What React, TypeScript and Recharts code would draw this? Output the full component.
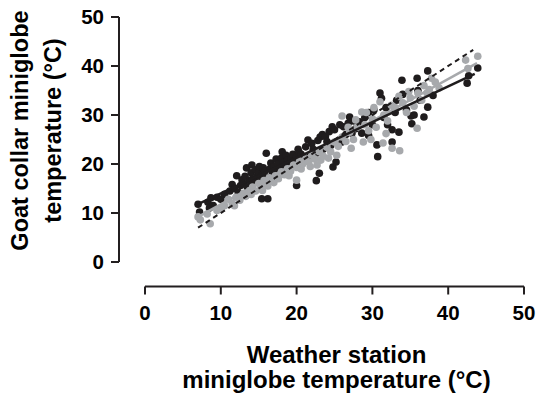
import { ScatterChart, Scatter, XAxis, YAxis, Label } from 'recharts';

// station (x) vs collar (y) miniglobe temperatures
const blackPoints = [
  { x: 7.0, y: 11.8 }, { x: 7.2, y: 10.2 }, { x: 8.3, y: 12.2 }, { x: 8.7, y: 13.1 }, { x: 8.5, y: 11.0 },
  { x: 9.0, y: 11.5 }, { x: 9.5, y: 13.2 }, { x: 10.0, y: 12.8 }, { x: 10.5, y: 13.8 }, { x: 11.2, y: 14.5 },
  { x: 11.5, y: 15.8 }, { x: 11.8, y: 15.0 }, { x: 12.1, y: 17.6 }, { x: 12.3, y: 14.2 }, { x: 12.6, y: 15.6 },
  { x: 12.8, y: 16.8 }, { x: 13.0, y: 16.0 }, { x: 13.2, y: 17.5 }, { x: 13.4, y: 19.2 }, { x: 13.5, y: 15.3 },
  { x: 13.8, y: 16.6 }, { x: 14.0, y: 18.2 }, { x: 14.1, y: 19.8 }, { x: 14.2, y: 17.0 }, { x: 14.5, y: 16.2 },
  { x: 14.6, y: 18.8 }, { x: 14.8, y: 17.5 }, { x: 15.0, y: 18.2 }, { x: 15.1, y: 19.5 }, { x: 15.2, y: 16.8 },
  { x: 15.4, y: 12.9 }, { x: 15.5, y: 17.9 }, { x: 15.6, y: 19.2 }, { x: 15.8, y: 18.5 }, { x: 16.0, y: 22.2 },
  { x: 16.2, y: 12.9 }, { x: 16.3, y: 17.2 }, { x: 16.5, y: 19.0 }, { x: 16.6, y: 20.2 }, { x: 16.8, y: 18.0 },
  { x: 17.0, y: 19.5 }, { x: 17.2, y: 18.6 }, { x: 17.3, y: 21.0 }, { x: 17.5, y: 20.0 }, { x: 17.8, y: 19.0 },
  { x: 18.0, y: 21.2 }, { x: 18.1, y: 22.5 }, { x: 18.2, y: 20.3 }, { x: 18.5, y: 19.4 }, { x: 18.6, y: 21.8 },
  { x: 18.8, y: 20.8 }, { x: 19.0, y: 20.0 }, { x: 19.3, y: 21.2 }, { x: 19.5, y: 22.0 }, { x: 19.6, y: 20.5 },
  { x: 20.0, y: 15.6 }, { x: 20.0, y: 21.5 }, { x: 20.2, y: 23.0 }, { x: 20.4, y: 22.2 }, { x: 20.6, y: 22.0 },
  { x: 21.0, y: 21.3 }, { x: 21.2, y: 23.5 }, { x: 21.5, y: 24.9 }, { x: 21.8, y: 21.6 }, { x: 22.0, y: 24.2 },
  { x: 22.2, y: 23.0 }, { x: 22.6, y: 16.6 }, { x: 22.6, y: 22.2 }, { x: 22.8, y: 24.8 }, { x: 23.0, y: 18.1 },
  { x: 23.1, y: 25.5 }, { x: 23.4, y: 26.0 }, { x: 23.5, y: 23.0 }, { x: 23.8, y: 25.6 }, { x: 24.0, y: 24.6 },
  { x: 24.3, y: 26.6 }, { x: 24.7, y: 27.6 }, { x: 24.5, y: 23.8 }, { x: 24.8, y: 19.4 }, { x: 25.0, y: 27.0 },
  { x: 25.2, y: 20.4 }, { x: 25.7, y: 28.0 }, { x: 26.0, y: 24.5 }, { x: 26.2, y: 27.6 }, { x: 26.5, y: 26.0 },
  { x: 26.8, y: 28.3 }, { x: 27.0, y: 29.6 }, { x: 27.3, y: 26.3 }, { x: 27.5, y: 28.8 }, { x: 27.8, y: 27.2 },
  { x: 28.3, y: 28.6 }, { x: 28.6, y: 26.3 }, { x: 29.0, y: 29.5 }, { x: 29.5, y: 25.8 }, { x: 29.5, y: 30.5 },
  { x: 30.0, y: 28.0 }, { x: 30.2, y: 31.0 }, { x: 30.6, y: 23.9 }, { x: 30.7, y: 21.5 }, { x: 31.0, y: 34.5 },
  { x: 31.2, y: 33.4 }, { x: 31.5, y: 29.5 }, { x: 31.8, y: 31.5 }, { x: 32.0, y: 28.0 }, { x: 32.6, y: 24.5 },
  { x: 32.6, y: 27.0 }, { x: 33.0, y: 30.5 }, { x: 33.2, y: 33.0 }, { x: 33.5, y: 26.5 }, { x: 33.9, y: 37.1 },
  { x: 34.0, y: 34.2 }, { x: 34.5, y: 31.0 }, { x: 35.1, y: 29.8 }, { x: 35.5, y: 30.0 }, { x: 35.2, y: 28.2 },
  { x: 35.9, y: 37.5 }, { x: 36.0, y: 35.0 }, { x: 36.3, y: 33.0 }, { x: 36.8, y: 29.6 }, { x: 37.3, y: 31.6 },
  { x: 37.3, y: 39.0 }, { x: 38.0, y: 34.0 }, { x: 42.5, y: 36.5 }, { x: 42.7, y: 38.0 }, { x: 43.9, y: 39.6 },
];

const greyPoints = [
  { x: 7.0, y: 9.2 }, { x: 7.3, y: 8.6 }, { x: 8.6, y: 7.8 }, { x: 8.2, y: 9.8 }, { x: 9.5, y: 10.5 },
  { x: 10.0, y: 10.8 }, { x: 10.5, y: 11.5 }, { x: 11.0, y: 12.8 }, { x: 11.5, y: 12.0 }, { x: 11.8, y: 11.5 },
  { x: 12.0, y: 13.2 }, { x: 12.5, y: 12.6 }, { x: 12.8, y: 13.5 }, { x: 13.0, y: 14.0 }, { x: 13.3, y: 13.4 },
  { x: 13.8, y: 14.6 }, { x: 14.0, y: 13.8 }, { x: 14.2, y: 15.3 }, { x: 14.6, y: 14.5 }, { x: 15.0, y: 16.0 },
  { x: 15.3, y: 15.2 }, { x: 15.5, y: 14.6 }, { x: 15.7, y: 16.6 }, { x: 16.0, y: 16.0 }, { x: 16.2, y: 15.5 },
  { x: 16.4, y: 17.2 }, { x: 16.8, y: 16.5 }, { x: 17.0, y: 16.2 }, { x: 17.2, y: 17.6 }, { x: 17.6, y: 17.0 },
  { x: 17.8, y: 17.8 }, { x: 18.0, y: 18.4 }, { x: 18.4, y: 17.8 }, { x: 18.8, y: 19.0 }, { x: 19.0, y: 17.6 },
  { x: 19.2, y: 18.5 }, { x: 19.6, y: 19.8 }, { x: 20.0, y: 16.7 }, { x: 20.0, y: 19.3 }, { x: 20.4, y: 20.6 },
  { x: 20.6, y: 19.0 }, { x: 20.8, y: 20.0 }, { x: 21.2, y: 21.0 }, { x: 21.6, y: 20.4 }, { x: 21.8, y: 19.5 },
  { x: 22.0, y: 21.8 }, { x: 22.4, y: 21.0 }, { x: 22.7, y: 19.8 }, { x: 23.0, y: 22.5 }, { x: 23.2, y: 20.8 },
  { x: 23.5, y: 21.6 }, { x: 24.0, y: 23.4 }, { x: 24.2, y: 21.2 }, { x: 24.5, y: 22.5 }, { x: 25.0, y: 24.5 },
  { x: 25.3, y: 21.8 }, { x: 25.5, y: 23.6 }, { x: 26.0, y: 29.8 }, { x: 26.0, y: 25.5 }, { x: 26.5, y: 24.6 },
  { x: 26.8, y: 27.5 }, { x: 27.0, y: 26.5 }, { x: 27.2, y: 23.2 }, { x: 27.5, y: 25.0 }, { x: 27.8, y: 29.0 },
  { x: 28.0, y: 27.5 }, { x: 28.6, y: 30.6 }, { x: 28.8, y: 24.5 }, { x: 29.0, y: 28.0 }, { x: 29.2, y: 30.5 },
  { x: 29.5, y: 26.8 }, { x: 29.8, y: 25.0 }, { x: 30.0, y: 29.2 }, { x: 30.2, y: 31.5 }, { x: 30.5, y: 27.5 },
  { x: 31.0, y: 32.7 }, { x: 31.4, y: 24.3 }, { x: 31.5, y: 30.0 }, { x: 31.8, y: 26.2 }, { x: 32.0, y: 28.8 },
  { x: 32.5, y: 32.0 }, { x: 32.6, y: 23.2 }, { x: 33.0, y: 31.5 }, { x: 33.5, y: 33.8 }, { x: 33.6, y: 22.7 },
  { x: 34.0, y: 32.5 }, { x: 34.5, y: 30.5 }, { x: 34.8, y: 34.8 }, { x: 35.0, y: 33.5 }, { x: 35.5, y: 31.8 },
  { x: 35.9, y: 27.3 }, { x: 36.0, y: 34.5 }, { x: 36.5, y: 33.0 }, { x: 36.8, y: 36.0 }, { x: 37.2, y: 34.5 },
  { x: 37.5, y: 35.2 }, { x: 37.8, y: 37.5 }, { x: 38.3, y: 36.7 }, { x: 38.8, y: 35.5 }, { x: 42.3, y: 41.2 },
  { x: 42.6, y: 39.5 }, { x: 43.9, y: 42.0 },
];

// fitted lines and the 1:1 line
const blackFit = [{ x: 7.0, y: 11.8 }, { x: 43.5, y: 38.4 }];
const greyFit = [{ x: 7.0, y: 9.2 }, { x: 43.8, y: 40.6 }];
const identity = [{ x: 7.0, y: 7.0 }, { x: 43.3, y: 43.3 }];

const xTicks = [0, 10, 20, 30, 40, 50];
const yTicks = [0, 10, 20, 30, 40, 50];

const BLACK = '#1f1c1d';
const GREY = '#a7a9ac';
const AXIS = '#231f20';
const FONT = '"Liberation Sans", Arial, Helvetica, sans-serif';

const blackDot = (p: any) => <circle cx={p.cx} cy={p.cy} r={3.8} fill={BLACK} />;
const greyDot = (p: any) => <circle cx={p.cx} cy={p.cy} r={3.8} fill={GREY} />;
const noDot = () => <g />;

const tickStyle = { fill: '#000', fontSize: 20.5, fontWeight: 700, fontFamily: FONT };

const XTitle = (props: any) => {
  const vb = props.viewBox;
  const cx = vb.x + vb.width / 2 + 2;
  return (
    <text textAnchor="middle" fontFamily={FONT} fontWeight={700} fontSize={24} fill="#000">
      <tspan x={cx} y={vb.y + 101}>Weather station</tspan>
      <tspan x={cx} y={vb.y + 126}>miniglobe temperature (°C)</tspan>
    </text>
  );
};

const YTitle = (props: any) => {
  const vb = props.viewBox;
  const cy = vb.y + vb.height / 2 - 9;
  return (
    <text
      transform={`translate(0, ${cy}) rotate(-90)`}
      textAnchor="middle"
      fontFamily={FONT}
      fontWeight={700}
      fontSize={23.5}
      fill="#000"
    >
      <tspan x={0} y={28}>Goat collar miniglobe</tspan>
      <tspan x={0} y={61}>temperature (°C)</tspan>
    </text>
  );
};

export default function App() {
  return (
    <div style={{ position: 'absolute', left: 0, top: 0 }}>
      <ScatterChart width={537} height={399} margin={{ top: 17, right: 13, bottom: 0, left: 0 }}>
        <XAxis
          type="number"
          dataKey="x"
          domain={[0, 50]}
          ticks={xTicks}
          interval={0}
          height={137}
          tickSize={8}
          tickMargin={35}
          axisLine={{ stroke: AXIS, strokeWidth: 2, transform: 'translate(0 24.5)' }}
          tickLine={{ stroke: AXIS, strokeWidth: 2, transform: 'translate(0 24.5)' }}
          tick={tickStyle}
        >
          <Label content={XTitle} />
        </XAxis>
        <YAxis
          type="number"
          dataKey="y"
          domain={[0, 50]}
          ticks={yTicks}
          interval={0}
          width={145}
          tickSize={8}
          tickMargin={33}
          axisLine={{ stroke: AXIS, strokeWidth: 2, transform: 'translate(-26 0)' }}
          tickLine={{ stroke: AXIS, strokeWidth: 2, transform: 'translate(-26 0)' }}
          tick={tickStyle}
        >
          <Label content={YTitle} />
        </YAxis>
        <Scatter data={blackPoints} shape={blackDot} isAnimationActive={false} />
        <Scatter data={greyPoints} shape={greyDot} isAnimationActive={false} />
        <Scatter
          data={greyFit}
          shape={noDot}
          line={{ stroke: GREY, strokeWidth: 2.5 }}
          isAnimationActive={false}
        />
        <Scatter
          data={blackFit}
          shape={noDot}
          line={{ stroke: BLACK, strokeWidth: 2.5 }}
          isAnimationActive={false}
        />
        <Scatter
          data={identity}
          shape={noDot}
          line={{ stroke: BLACK, strokeWidth: 2, strokeDasharray: '5 4' }}
          isAnimationActive={false}
        />
      </ScatterChart>
    </div>
  );
}
